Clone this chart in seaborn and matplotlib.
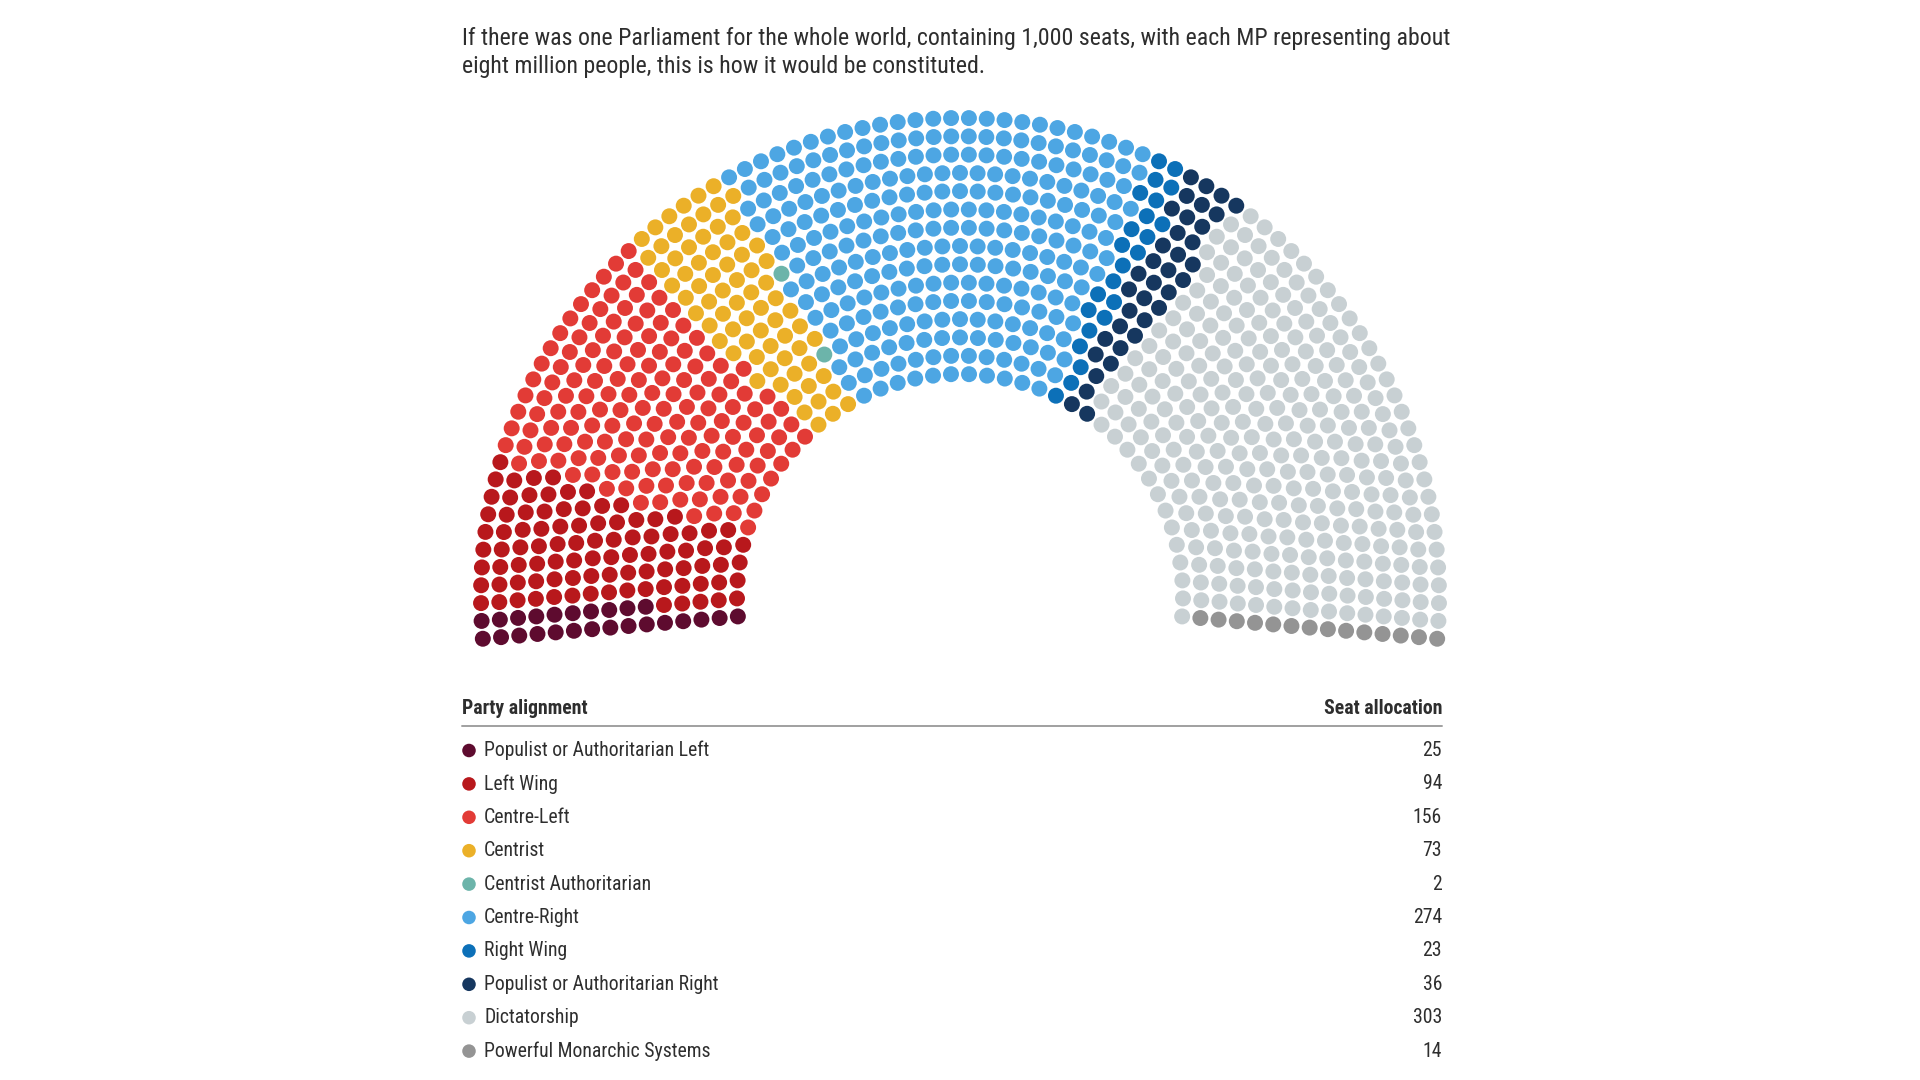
import numpy as np
import pandas as pd
import matplotlib
matplotlib.use('Agg')
import matplotlib.pyplot as plt
import seaborn as sns
from matplotlib import font_manager

# Seat allocation of a 1,000 seat world parliament
parties = ['Populist or Authoritarian Left', 'Left Wing', 'Centre-Left', 'Centrist',
           'Centrist Authoritarian', 'Centre-Right', 'Right Wing',
           'Populist or Authoritarian Right', 'Dictatorship', 'Powerful Monarchic Systems']
seats = [25, 94, 156, 73, 2, 274, 23, 36, 303, 14]
colors = ['#5e0b2f', '#b8181c', '#e23b36', '#ebb028', '#6cb4aa',
          '#4da6e3', '#0c70b8', '#16375f', '#c8d0d3', '#949494']

title = ("If there was one Parliament for the whole world, containing 1,000 seats, with each MP representing about\n"
         "eight million people, this is how it would be constituted.")

sns.set_theme(style='white')

# pick a narrow font if there is one, the original uses a condensed face
names = {f.name for f in font_manager.fontManager.ttflist}
narrow = [n for n in ['Roboto Condensed', 'Liberation Sans Narrow'] if n in names]
if narrow:
    plt.rcParams['font.family'] = [narrow[0], 'DejaVu Sans']
    k = 1.0
else:
    plt.rcParams['font.family'] = ['Roboto', 'DejaVu Sans']
    k = 0.84

# hemicycle layout: 15 rows, seats per row proportional to radius
n_rows = 15
cx, cy = 960, 597
radii = np.linspace(223, 479, n_rows)
total = sum(seats)
per_row = np.round(total * radii / radii.sum()).astype(int)
per_row[-1] += total - per_row.sum()
a0, a1 = np.radians(185), np.radians(-5)

rows = []
for r, n in zip(radii, per_row):
    rows.append(pd.DataFrame({'angle': np.linspace(a0, a1, n), 'r': r}))
seat_df = pd.concat(rows).sort_values(['angle', 'r'], ascending=[False, True]).reset_index(drop=True)
seat_df['party'] = np.repeat(parties, seats)
seat_df['x'] = cx + seat_df['r'] * np.cos(seat_df['angle'])
seat_df['y'] = cy - seat_df['r'] * np.sin(seat_df['angle'])

palette = dict(zip(parties, colors))

fig = plt.figure(figsize=(19.2, 10.8), dpi=100)
ax = fig.add_axes([0, 0, 1, 1])
ax.set_xlim(0, 1920)
ax.set_ylim(1080, 0)
ax.axis('off')

sns.scatterplot(data=seat_df, x='x', y='y', hue='party', palette=palette,
                s=132, linewidth=0, legend=False, ax=ax)

# title
ax.text(462, 52.5, title, fontsize=17.2 * k, color='#2e2e2e', ha='left', va='center',
        linespacing=1.3)

# legend table
ax.text(462, 709, 'Party alignment', fontsize=14.2 * k, fontweight='bold', color='#2e2e2e', va='center')
ax.text(1442, 709, 'Seat allocation', fontsize=14.2 * k, fontweight='bold', color='#2e2e2e',
        va='center', ha='right')
ax.plot([462, 1442], [726, 726], color='#a0a0a0', lw=1.4)

leg = pd.DataFrame({'party': parties, 'seats': seats})
leg['y'] = 750.5 + np.arange(len(leg)) * 33.4
leg['x'] = 469
sns.scatterplot(data=leg, x='x', y='y', hue='party', palette=palette,
                s=95, linewidth=0, legend=False, ax=ax)
for _, row in leg.iterrows():
    ax.text(484, row['y'], row['party'], fontsize=14.2 * k, color='#2e2e2e', va='center')
    ax.text(1442, row['y'], str(row['seats']), fontsize=14.2 * k, color='#2e2e2e',
            va='center', ha='right')

fig.savefig('out.png', dpi=100, facecolor='white')
